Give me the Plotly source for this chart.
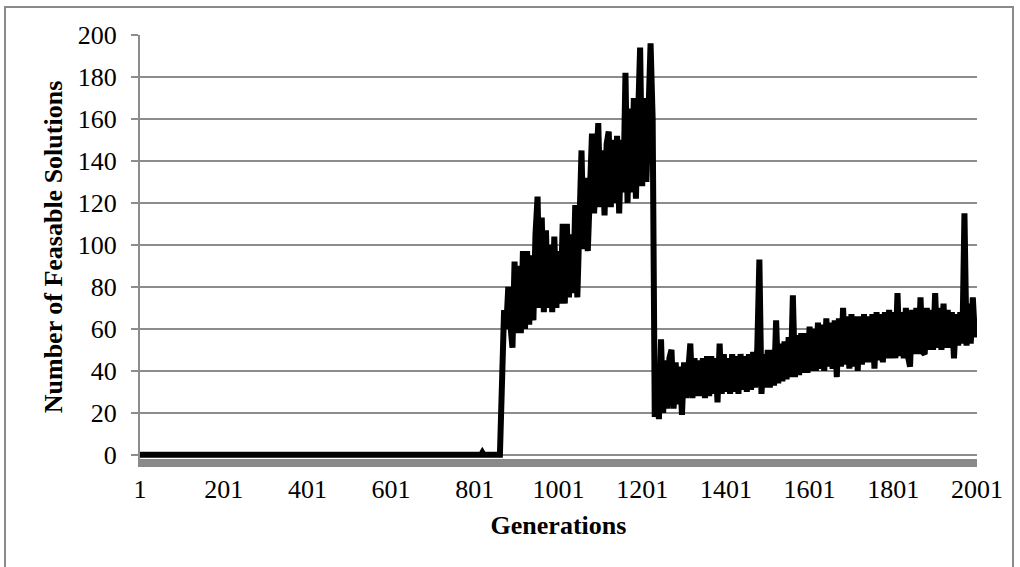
import plotly.graph_objects as go

# ---- data ----
tick_generations = [1, 201, 401, 601, 801, 1001, 1201, 1401, 1601, 1801, 2001]
tick_labels = ["1", "201", "401", "601", "801", "1001", "1201", "1401", "1601", "1801", "2001"]
y_ticks = [0, 20, 40, 60, 80, 100, 120, 140, 160, 180, 200]

# flat start (all zero except a tiny blip)
early_generations = [1, 816, 819, 822]
early_values = [0, 0, 1, 0]

# active part, every 5th generation from 861 to 2001
active_generations = list(range(861, 2002, 5))
active_values = [
    0, 35, 69, 60, 80, 62, 51, 92, 58, 90,            # 861-906
    58, 97, 60, 97, 62, 95, 64, 105, 123, 70,         # 911-956
    113, 68, 107, 70, 100, 68, 104, 70, 97, 72,       # 961-1006
    110, 72, 110, 75, 105, 77, 119, 75, 120, 145,     # 1011-1056
    98, 132, 97, 128, 153, 115, 140, 158, 118, 145,   # 1061-1106
    114, 148, 154, 118, 150, 120, 152, 115, 150, 125, # 1111-1156
    182, 120, 165, 125, 170, 122, 160, 194, 128, 170, # 1161-1206
    130, 168, 196, 160,                               # 1211-1226
    18, 42, 17, 55, 20, 45,                           # 1231-1256
    22, 46, 50, 22, 44, 24, 42, 19, 44, 27,           # 1261-1306
    45, 53, 27, 46, 28, 45, 28, 46, 27, 47,           # 1311-1356
    28, 47, 29, 46, 25, 53, 29, 48, 30, 46,           # 1361-1406
    29, 48, 30, 47, 29, 48, 31, 47, 30, 48,           # 1411-1456
    31, 49, 32, 51, 93, 29, 48, 32, 50, 32,           # 1461-1506
    50, 33, 64, 34, 53, 35, 54, 36, 56, 37,           # 1511-1556
    76, 37, 57, 38, 58, 39, 58, 39, 61, 40,           # 1561-1606
    60, 40, 63, 41, 62, 40, 65, 42, 63, 41,           # 1611-1656
    64, 37, 65, 42, 70, 43, 66, 41, 67, 42,           # 1661-1706
    66, 40, 66, 43, 67, 44, 66, 44, 67, 41,           # 1711-1756
    68, 45, 67, 44, 68, 46, 69, 46, 68, 46,           # 1761-1806
    77, 47, 68, 46, 70, 47, 42, 69, 48, 70,           # 1811-1856
    48, 75, 49, 48, 70, 50, 69, 50, 77, 51,           # 1861-1906
    70, 50, 72, 51, 69, 51, 68, 46, 67, 52,           # 1911-1956
    68, 53, 115, 52, 72, 53, 75, 56, 65,              # 1961-2001
]

generations = early_generations + active_generations
feasible = early_values + active_values

GRID = "#8c8c8c"
FONT = "Liberation Serif"

fig = go.Figure()
fig.add_trace(go.Scatter(
    x=generations, y=feasible, mode="lines",
    line=dict(color="black", width=6),
    showlegend=False, hoverinfo="skip",
))

# plot area: x 140..977 px, y 35..459 px
L, R, T, B = 140, 43, 35, 108
W, H = 1020, 567
pw, ph = W - L - R, H - T - B

fig.update_layout(
    width=W, height=H,
    margin=dict(l=L, r=R, t=T, b=B, pad=0),
    paper_bgcolor="white", plot_bgcolor="white",
    font=dict(family=FONT, size=26, color="black"),
    xaxis=dict(
        range=[1, 2001], tickmode="array", tickvals=tick_generations, ticktext=tick_labels,
        showgrid=False, zeroline=False, ticks="",
        showline=True, linecolor="#898989", linewidth=8, layer="below traces",
        ticklabelstandoff=0,
        title=dict(text="<b>Generations</b>", font=dict(family=FONT, size=26), standoff=16),
    ),
    yaxis=dict(
        range=[-2, 200], tickmode="array", tickvals=y_ticks,
        showgrid=True, gridcolor=GRID, gridwidth=2, zeroline=False,
        ticks="outside", ticklen=7, tickwidth=2, tickcolor=GRID,
        showline=True, linecolor=GRID, linewidth=2,
        ticklabelstandoff=9,
        title=dict(text="<b>Number of Feasable Solutions</b>", font=dict(family=FONT, size=26), standoff=8),
    ),
    shapes=[dict(
        type="rect", xref="paper", yref="paper",
        x0=(5 - L) / pw, x1=(1013 - L) / pw,
        y0=(H - B - 580) / ph, y1=(H - B - 7) / ph,
        line=dict(color="#8a8a8a", width=2), fillcolor="rgba(0,0,0,0)", layer="below",
    )],
)

fig.write_html("out.html")
